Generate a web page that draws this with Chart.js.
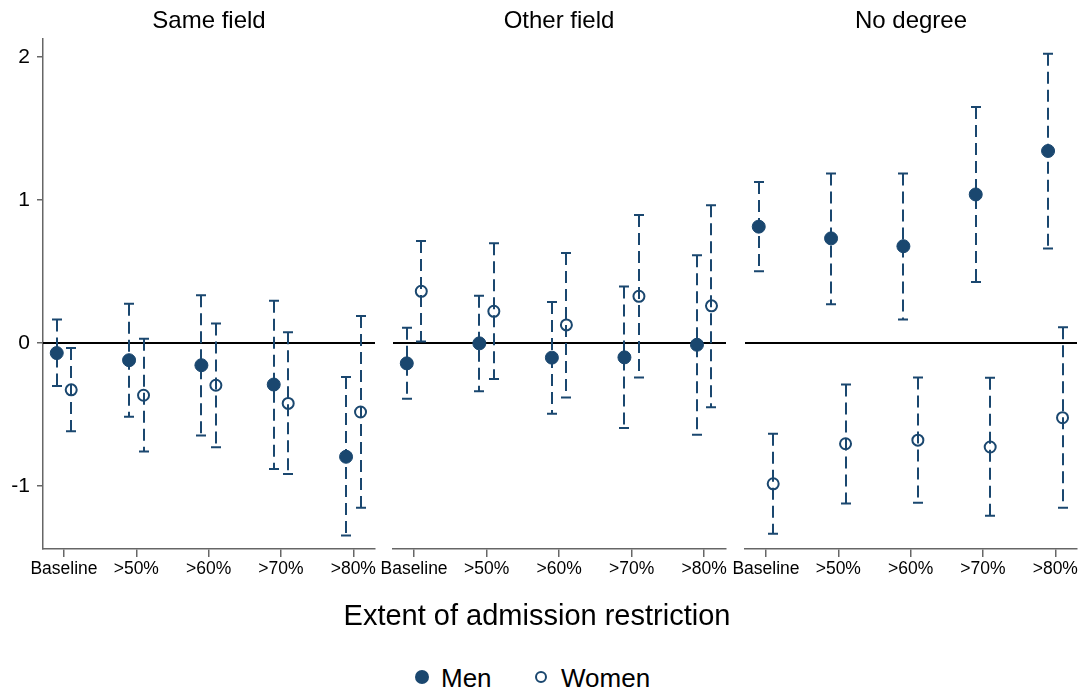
<!DOCTYPE html>
<html>
<head>
<meta charset="utf-8">
<script src="https://cdn.jsdelivr.net/npm/chart.js@4.4.1/dist/chart.umd.min.js"></script>
<style>
  body { margin: 0; background: #fff; font-family: "Liberation Sans", Arial, sans-serif; }
  #wrap { position: relative; width: 1086px; height: 693px; overflow: hidden; }
  #wrap canvas { position: absolute; top: 0; }
  .ptitle { position: absolute; top: 8px; font-size: 24px; line-height: 24px; transform: translateX(-50%); white-space: nowrap; color: #000; }
  #xtitle { position: absolute; top: 601px; left: 537px; font-size: 29px; line-height: 29px; transform: translateX(-50%); white-space: nowrap; }
  #legend { position: absolute; top: 665px; left: 0; width: 1086px; height: 26px; font-size: 26px; line-height: 26px; }
  .lg { position: absolute; top: 0; white-space: nowrap; }
  .dot { position: absolute; border-radius: 50%; box-sizing: border-box; }
</style>
</head>
<body>
<div id="wrap">
  <canvas id="c1" width="415" height="600" style="left:0px"></canvas>
  <canvas id="c2" width="413" height="600" style="left:353px"></canvas>
  <canvas id="c3" width="381" height="600" style="left:705px"></canvas>
  <div class="ptitle" style="left:209px">Same field</div>
  <div class="ptitle" style="left:559px">Other field</div>
  <div class="ptitle" style="left:911px">No degree</div>
  <div id="xtitle">Extent of admission restriction</div>
  <div id="legend">
    <div class="dot" style="left:415px;top:5px;width:14px;height:14px;background:#1a476f"></div>
    <div class="lg" style="left:441px">Men</div>
    <div class="dot" style="left:535px;top:6px;width:12px;height:12px;border:2px solid #1a476f"></div>
    <div class="lg" style="left:561px">Women</div>
  </div>
</div>
<script>
var categories = ['Baseline', '>50%', '>60%', '>70%', '>80%'];
var panelTitles = ['Same field', 'Other field', 'No degree'];
var yTicks = [-1, 0, 1, 2];

// Same field
var sameMen    = [-0.07, -0.12, -0.155, -0.29, -0.795];
var sameMenLo  = [-0.30, -0.515, -0.647, -0.88, -1.345];
var sameMenHi  = [0.165, 0.275, 0.335, 0.295, -0.237];
var sameWomen   = [-0.327, -0.365, -0.295, -0.422, -0.482];
var sameWomenLo = [-0.617, -0.759, -0.729, -0.916, -1.151];
var sameWomenHi = [-0.035, 0.03, 0.137, 0.075, 0.19];

// Other field
var otherMen    = [-0.142, -0.002, -0.102, -0.10, -0.012];
var otherMenLo  = [-0.39, -0.337, -0.494, -0.594, -0.642];
var otherMenHi  = [0.107, 0.33, 0.287, 0.395, 0.614];
var otherWomen   = [0.362, 0.222, 0.127, 0.327, 0.26];
var otherWomenLo = [0.01, -0.252, -0.38, -0.24, -0.449];
var otherWomenHi = [0.714, 0.697, 0.629, 0.896, 0.964];

// No degree
var noMen    = [0.814, 0.732, 0.677, 1.039, 1.343];
var noMenLo  = [0.502, 0.272, 0.165, 0.427, 0.662];
var noMenHi  = [1.126, 1.186, 1.186, 1.65, 2.022];
var noWomen   = [-0.984, -0.704, -0.679, -0.727, -0.522];
var noWomenLo = [-1.333, -1.121, -1.116, -1.208, -1.151];
var noWomenHi = [-0.634, -0.29, -0.24, -0.242, 0.11];

var navy = '#1a476f';
var axisGray = '#666666';
var shift = 0.1;

function pts(vals, lo, hi, dx) {
  return vals.map(function(v, i) { return { x: i + dx, y: v, lo: lo[i], hi: hi[i] }; });
}

// dashed confidence intervals with caps
var ciPlugin = {
  id: 'ci',
  beforeDatasetsDraw: function(chart) {
    var ctx = chart.ctx, xs = chart.scales.x, ys = chart.scales.y, a = chart.chartArea;
    ctx.save();
    // zero reference line
    ctx.strokeStyle = '#000';
    ctx.lineWidth = 2;
    var y0 = Math.round(ys.getPixelForValue(0));
    ctx.beginPath();
    ctx.moveTo(a.left, y0);
    ctx.lineTo(a.right, y0);
    ctx.stroke();

    ctx.strokeStyle = navy;
    ctx.lineWidth = 2;
    chart.data.datasets.forEach(function(ds) {
      ds.data.forEach(function(p) {
        var x = Math.round(xs.getPixelForValue(p.x));
        var yt = ys.getPixelForValue(p.hi);
        var yb = ys.getPixelForValue(p.lo);
        ctx.setLineDash([12, 6]);
        ctx.beginPath();
        ctx.moveTo(x, yt);
        ctx.lineTo(x, yb);
        ctx.stroke();
        ctx.setLineDash([]);
        ctx.beginPath();
        ctx.moveTo(x - 5, yt); ctx.lineTo(x + 5, yt);
        ctx.moveTo(x - 5, yb); ctx.lineTo(x + 5, yb);
        ctx.stroke();
      });
    });
    ctx.restore();
  }
};

function makePanel(id, men, menLo, menHi, women, womenLo, womenHi, showY, pad) {
  new Chart(document.getElementById(id), {
    type: 'scatter',
    data: {
      datasets: [{
        label: 'Men',
        data: pts(men, menLo, menHi, -shift),
        pointRadius: 6.5,
        pointHoverRadius: 6.5,
        backgroundColor: navy,
        borderColor: navy,
        borderWidth: 1
      }, {
        label: 'Women',
        data: pts(women, womenLo, womenHi, shift),
        pointRadius: 5.5,
        pointHoverRadius: 5.5,
        backgroundColor: 'rgba(0,0,0,0)',
        borderColor: navy,
        borderWidth: 2
      }]
    },
    options: {
      responsive: false,
      animation: false,
      layout: { padding: pad },
      plugins: { legend: { display: false }, tooltip: { enabled: false } },
      scales: {
        x: {
          type: 'linear',
          min: -0.29,
          max: 4.3,
          afterBuildTicks: function(scale) {
            scale.ticks = categories.map(function(c, i) { return { value: i }; });
          },
          afterFit: function(scale) { scale.height = 30; },
          ticks: {
            callback: function(v) { return categories[v]; },
            color: '#000',
            font: { family: 'Liberation Sans, Arial, sans-serif', size: 17.5 },
            padding: 2,
            maxRotation: 0,
            autoSkip: false
          },
          grid: { drawOnChartArea: false, drawTicks: true, tickLength: 8, color: axisGray, lineWidth: 1.5 },
          border: { display: true, color: axisGray, width: 1.5 }
        },
        y: {
          display: showY,
          min: -1.44,
          max: 2.126,
          afterBuildTicks: function(scale) {
            scale.ticks = yTicks.map(function(v) { return { value: v }; });
          },
          afterFit: function(scale) { scale.width = showY ? 43 : 0; },
          ticks: {
            color: '#000',
            font: { family: 'Liberation Sans, Arial, sans-serif', size: 21 },
            padding: 7
          },
          grid: { drawOnChartArea: false, drawTicks: true, tickLength: 6, color: axisGray, lineWidth: 1.5 },
          border: { display: true, color: axisGray, width: 1.5 }
        }
      }
    },
    plugins: [ciPlugin]
  });
}

makePanel('c1', sameMen, sameMenLo, sameMenHi, sameWomen, sameWomenLo, sameWomenHi, true,
  { top: 39, bottom: 21, left: 0, right: 40 });
makePanel('c2', otherMen, otherMenLo, otherMenHi, otherWomen, otherWomenLo, otherWomenHi, false,
  { top: 39, bottom: 21, left: 40, right: 40 });
makePanel('c3', noMen, noMenLo, noMenHi, noWomen, noWomenLo, noWomenHi, false,
  { top: 39, bottom: 21, left: 40, right: 9 });
</script>
</body>
</html>
